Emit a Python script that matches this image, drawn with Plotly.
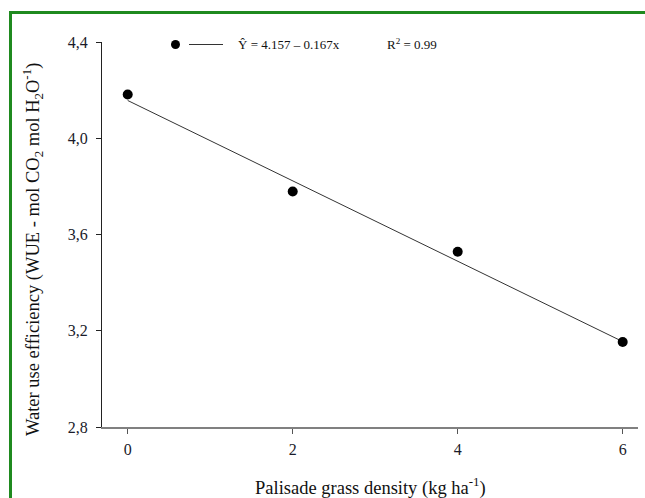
import plotly.graph_objects as go

# Data
density = [0, 2, 4, 6]
wue = [4.182, 3.779, 3.528, 3.153]
intercept = 4.157
slope = -0.167
x_ticks = [0, 2, 4, 6]
y_ticks = [2.8, 3.2, 3.6, 4.0, 4.4]
y_ticklabels = ["2,8", "3,2", "3,6", "4,0", "4,4"]

fit_x = [min(density), max(density)]
fit_y = [intercept + slope * v for v in fit_x]

W, H = 645, 498
L, R, T, B = 102, 7, 42, 71
pw = W - L - R
ph = H - T - B

def px2xp(px):
    return (px - L) / pw

def py2yp(py):
    return (H - B - py) / ph

serif = "Liberation Serif, Times New Roman, serif"

fig = go.Figure()
fig.add_trace(go.Scatter(x=fit_x, y=fit_y, mode="lines",
                         line=dict(color="#333333", width=1), showlegend=False,
                         hoverinfo="skip"))
fig.add_trace(go.Scatter(x=density, y=wue, mode="markers",
                         marker=dict(color="black", size=10), showlegend=False))

shapes = [
    # green frame
    dict(type="rect", xref="paper", yref="paper",
         x0=px2xp(10.5), x1=px2xp(660), y0=py2yp(520), y1=py2yp(12.5),
         line=dict(color="#1f8a1f", width=3), fillcolor="rgba(0,0,0,0)", layer="below"),
    # legend line
    dict(type="line", xref="paper", yref="paper",
         x0=px2xp(189), x1=px2xp(223), y0=py2yp(44.5), y1=py2yp(44.5),
         line=dict(color="#333333", width=1)),
    # legend dot
    dict(type="circle", xref="paper", yref="paper",
         xsizemode="pixel", ysizemode="pixel",
         xanchor=px2xp(175.5), yanchor=py2yp(44.5),
         x0=-4.5, x1=4.5, y0=-4.5, y1=4.5,
         fillcolor="black", line=dict(color="black", width=0)),
]

annotations = [
    dict(text="Ŷ = 4.157 – 0.167x", xref="paper", yref="paper",
         x=px2xp(236), y=py2yp(44.5), xanchor="left", yanchor="middle",
         showarrow=False, font=dict(family=serif, size=13, color="#111")),
    dict(text="R<sup>2</sup> = 0.99", xref="paper", yref="paper",
         x=px2xp(385), y=py2yp(44.5), xanchor="left", yanchor="middle",
         showarrow=False, font=dict(family=serif, size=13, color="#111")),
    dict(text="Water use efficiency (WUE - mol CO<sub>2</sub> mol H<sub>2</sub>O<sup>-1</sup>)",
         xref="paper", yref="paper", x=px2xp(33), y=py2yp(250),
         xanchor="center", yanchor="middle", textangle=-90,
         showarrow=False, font=dict(family=serif, size=18.5, color="#111")),
    dict(text="Palisade grass density (kg ha<sup>-1</sup>)",
         xref="paper", yref="paper", x=px2xp(370), y=py2yp(486),
         xanchor="center", yanchor="middle",
         showarrow=False, font=dict(family=serif, size=18.5, color="#111")),
]

xmin = -(127.7 - L) / 82.5
xmax = xmin + pw / 82.5

fig.update_layout(
    width=W, height=H,
    margin=dict(l=L, r=R, t=T, b=B),
    paper_bgcolor="white", plot_bgcolor="white",
    shapes=shapes, annotations=annotations,
    xaxis=dict(range=[xmin, xmax], tickvals=x_ticks, ticks="outside", ticklen=5,
               tickcolor="#555", showline=True, linecolor="#808080", linewidth=1.5,
               showgrid=False, zeroline=False,
               tickfont=dict(family=serif, size=16, color="#1a1a2a"),
               ticklabelstandoff=2),
    yaxis=dict(range=[2.8, 4.4], tickvals=y_ticks, ticktext=y_ticklabels,
               ticks="outside", ticklen=5, tickcolor="#222",
               showline=True, linecolor="#222", linewidth=1,
               showgrid=False, zeroline=False,
               tickfont=dict(family=serif, size=16, color="#1a1a2a"),
               ticklabelstandoff=5),
)

fig.write_html("out.html", config={"displayModeBar": False},
               post_script="document.body.style.margin='0px';document.body.style.overflow='hidden';")
